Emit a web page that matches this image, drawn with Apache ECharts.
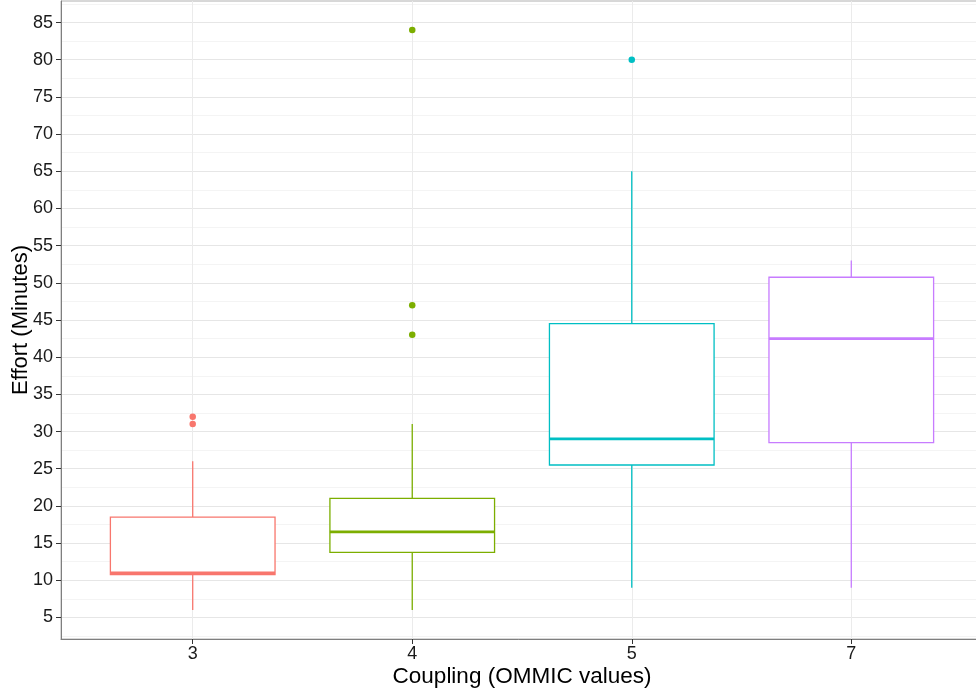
<!DOCTYPE html>
<html>
<head>
<meta charset="utf-8">
<script src="https://cdn.jsdelivr.net/npm/echarts@6/dist/echarts.min.js"></script>
<style>html,body{margin:0;padding:0;background:#fff}#c{width:976px;height:692px}</style>
</head>
<body>
<div id="c"></div>
<script>
// ---- data ----
const categories = ['3', '4', '5', '7'];
const whiskerLow = [6, 6, 9, 9];
const q1 = [10.75, 13.75, 25.5, 28.5];
const median = [11, 16.5, 29, 42.5];
const q3 = [18.5, 21, 44.5, 50.75];
const whiskerHigh = [26, 31, 65, 53];
const outliers3 = [31, 32];
const outliers4 = [43, 47, 84];
const outliers5 = [80];
const outliers7 = [];
const yTicks = [5, 10, 15, 20, 25, 30, 35, 40, 45, 50, 55, 60, 65, 70, 75, 80, 85];
const yMinorTicks = [2.5, 7.5, 12.5, 17.5, 22.5, 27.5, 32.5, 37.5, 42.5, 47.5, 52.5, 57.5, 62.5, 67.5, 72.5, 77.5, 82.5, 87.5];

const colors = ['#F8766D', '#7CAE00', '#00BFC4', '#C77CFF'];
const FONT = "'Liberation Sans', Arial, sans-serif";
const HALF = 0.375;

const boxData = categories.map((c, i) => [i + 1, whiskerLow[i], q1[i], median[i], q3[i], whiskerHigh[i]]);
const outlierLists = [outliers3, outliers4, outliers5, outliers7];
const outlierData = [];
outlierLists.forEach((arr, i) => arr.forEach(v => outlierData.push({value: [i + 1, v], itemStyle: {color: colors[i]}})));

const chart = echarts.init(document.getElementById('c'), null, {renderer: 'canvas'});
chart.setOption({
  animation: false,
  backgroundColor: '#fff',
  grid: {left: 61, right: -7, top: 1, bottom: 53, show: true, borderColor: '#b0b0b0', borderWidth: 1, backgroundColor: '#fff', containLabel: false, outerBoundsMode: 'none'},
  xAxis: {
    type: 'value', min: 0.4, max: 4.6,
    name: 'Coupling (OMMIC values)', nameLocation: 'middle', nameGap: 26, nameMoveOverlap: false,
    nameTextStyle: {fontFamily: FONT, fontSize: 22.5, color: '#000'},
    axisLine: {show: true, lineStyle: {color: '#7f7f7f', width: 1}},
    axisTick: {show: true, length: 5, lineStyle: {color: '#333'}, customValues: [1, 2, 3, 4]},
    axisLabel: {fontFamily: FONT, fontSize: 18, color: '#1a1a1a', margin: 6, customValues: [1, 2, 3, 4],
      formatter: v => categories[Math.round(v) - 1] || ''},
    splitLine: {show: true, lineStyle: {color: '#ebebeb', width: 1}}
  },
  yAxis: [{
    type: 'value', min: 2.1, max: 87.9,
    name: 'Effort (Minutes)', nameLocation: 'middle', nameGap: 29, nameMoveOverlap: false,
    nameTextStyle: {fontFamily: FONT, fontSize: 22, color: '#000'},
    axisLine: {show: true, lineStyle: {color: '#7f7f7f', width: 1}},
    axisTick: {show: true, length: 5, lineStyle: {color: '#333'}, customValues: yTicks},
    axisLabel: {fontFamily: FONT, fontSize: 18, color: '#1a1a1a', margin: 8, customValues: yTicks},
    splitLine: {show: true, lineStyle: {color: '#e6e6e6', width: 1}}
  }, {
    type: 'value', min: 2.1, max: 87.9, position: 'left',
    axisLine: {show: false}, axisLabel: {show: false},
    axisTick: {show: false, customValues: yMinorTicks},
    splitLine: {show: true, lineStyle: {color: '#f4f4f4', width: 1}}
  }],
  series: [{
    type: 'custom',
    data: boxData,
    encode: {x: 0, y: [1, 2, 3, 4, 5]},
    z: 3,
    renderItem: function (params, api) {
      const x = api.value(0);
      const color = colors[params.dataIndex];
      const pLo = api.coord([x, api.value(1)]);
      const pQ1 = api.coord([x, api.value(2)]);
      const pMedL = api.coord([x - HALF, api.value(3)]);
      const pMedR = api.coord([x + HALF, api.value(3)]);
      const pQ3 = api.coord([x, api.value(4)]);
      const pHi = api.coord([x, api.value(5)]);
      const tl = api.coord([x - HALF, api.value(4)]);
      const br = api.coord([x + HALF, api.value(2)]);
      return {
        type: 'group',
        children: [
          {type: 'line', shape: {x1: pHi[0], y1: pHi[1], x2: pQ3[0], y2: pQ3[1]}, style: {stroke: color, lineWidth: 1.3}},
          {type: 'line', shape: {x1: pQ1[0], y1: pQ1[1], x2: pLo[0], y2: pLo[1]}, style: {stroke: color, lineWidth: 1.3}},
          {type: 'rect', shape: {x: tl[0], y: tl[1], width: br[0] - tl[0], height: br[1] - tl[1]}, style: {fill: '#fff', stroke: color, lineWidth: 1.3}},
          {type: 'line', shape: {x1: pMedL[0], y1: pMedL[1], x2: pMedR[0], y2: pMedR[1]}, style: {stroke: color, lineWidth: 2.8}}
        ]
      };
    }
  }, {
    type: 'scatter',
    data: outlierData,
    symbol: 'circle',
    symbolSize: 6.5,
    itemStyle: {opacity: 1},
    z: 4
  }]
});
</script>
</body>
</html>
